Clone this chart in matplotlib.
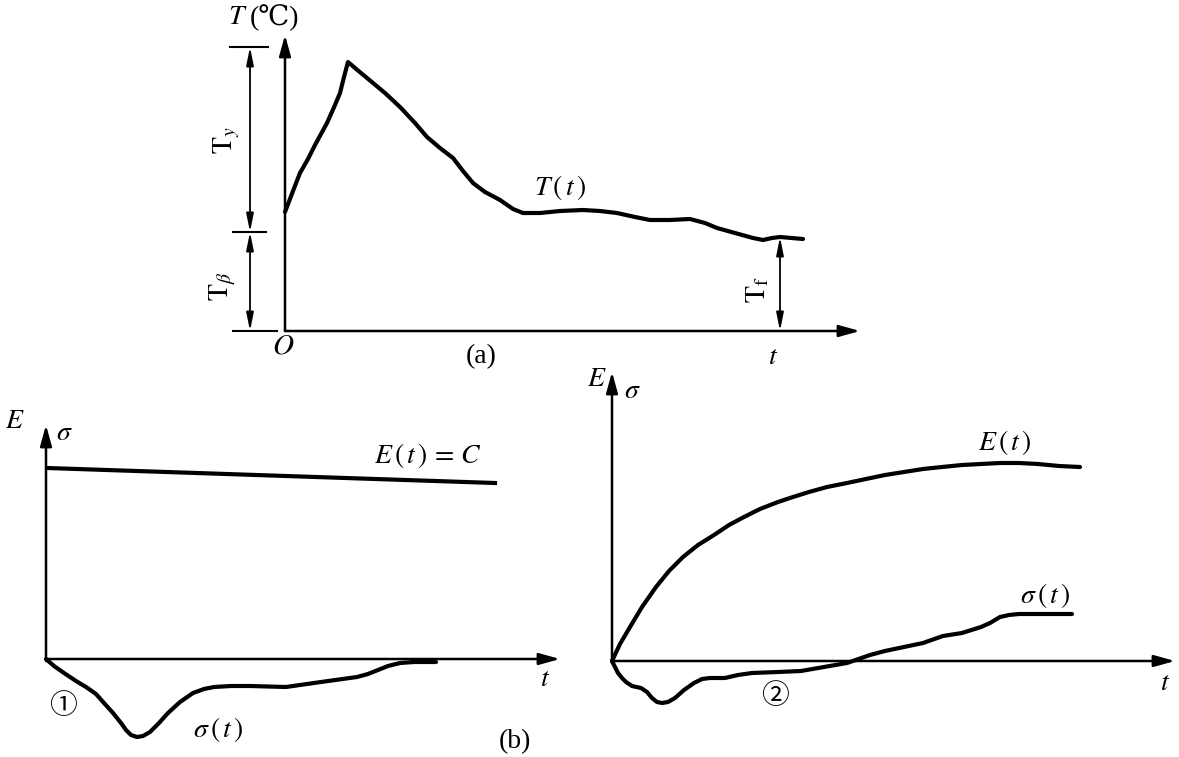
import matplotlib
matplotlib.use("Agg")
import matplotlib.pyplot as plt

plt.rcParams['font.family'] = ['Liberation Serif', 'DejaVu Serif', 'Noto Sans CJK SC']
plt.rcParams['mathtext.fontset'] = 'stix'

# (a) temperature history T(t) (t from origin, T up)
t_a = [0, 8, 15, 23, 30, 42, 50, 55, 59, 63, 70, 82, 100, 115, 130, 142, 155, 168, 178, 188, 200, 215, 228, 238, 255, 275, 298, 315, 332, 350, 365, 385, 405, 420, 432, 450, 468, 478, 487, 495, 518]
T_a = [119, 140, 158, 172, 186, 208, 226, 238, 254, 269, 263, 253, 238, 224, 208, 194, 183, 173, 160, 148, 139, 131, 122, 118, 118, 120, 121, 120, 118, 114, 111, 111, 112, 108, 103, 98, 93, 91, 93, 94, 92]
T_beta = 99      # level splitting T_beta / T_y
T_top = 284      # top of T_y dimension
t_f = 495        # where T_f is measured
T_f = 94

# (b) case 1: E constant, sigma(t) dips then returns
t_b1_E = [1, 449]
E_b1 = [191, 176]
t_b1_s = [0, 8, 18, 30, 40, 50, 58, 67, 75, 80, 85, 91, 97, 104, 113, 122, 134, 147, 158, 168, 185, 204, 240, 275, 311, 322, 332, 342, 354, 368, 383, 390]
s_b1 = [0, -7, -14, -22, -28, -35, -44, -54, -64, -71, -76, -78, -77, -73, -64, -54, -43, -34, -30, -28, -27, -27, -28, -23, -18, -15, -11, -7, -4, -3, -3, -3]

# (b) case 2: E rises, sigma(t) dips then turns positive
t_b2_E = [0, 8, 18, 30, 44, 57, 71, 86, 102, 117, 132, 148, 166, 181, 197, 215, 235, 254, 273, 292, 311, 330, 350, 369, 388, 407, 426, 447, 468]
E_b2 = [0, 17, 34, 54, 74, 90, 104, 116, 126, 136, 144, 152, 159, 164, 169, 174, 178, 182, 186, 189, 192, 194, 196, 197, 198, 198, 197, 195, 194]
t_b2_s = [0, 3, 6, 10, 14, 20, 29, 35, 40, 45, 50, 56, 63, 72, 82, 90, 98, 113, 126, 140, 166, 189, 212, 235, 258, 273, 292, 311, 331, 350, 369, 378, 388, 397, 407, 460]
s_b2 = [0, -6, -12, -17, -21, -25, -27, -31, -37, -41, -42, -41, -37, -29, -22, -18, -17, -17, -14, -12, -11, -10, -6, -2, 6, 10, 14, 18, 25, 28, 34, 38, 44, 46, 47, 47]

W, H = 1179, 757
fig = plt.figure(figsize=(W / 100, H / 100), dpi=100)


def panel(ox, oy, x0, x1, y0, y1):
    # one data unit = one pixel, origin placed at pixel (ox, oy)
    ax = fig.add_axes([(ox + x0) / W, (H - oy + y0) / H, (x1 - x0) / W, (y1 - y0) / H])
    ax.set_xlim(x0, x1)
    ax.set_ylim(y0, y1)
    ax.axis('off')
    return ax


def arrow(ax, x0, y0, x1, y1):
    ax.annotate('', xy=(x1, y1), xytext=(x0, y0),
                arrowprops=dict(arrowstyle='-|>,head_length=0.9,head_width=0.25', color='k',
                                lw=1.8, shrinkA=0, shrinkB=0, mutation_scale=14))


def dim(ax, x, y0, y1):
    ax.annotate('', xy=(x, y1), xytext=(x, y0),
                arrowprops=dict(arrowstyle='<|-|>,head_length=0.9,head_width=0.18', color='k',
                                lw=1.3, shrinkA=0, shrinkB=0, mutation_scale=12))


fs = 20
lw_curve = 3.0

# ---- (a)
ax = panel(285, 331, -80, 590, -40, 330)
arrow(ax, 0, 0, 0, 296)
arrow(ax, 0, 0, 575, 0)
ax.plot(t_a, T_a, color='k', lw=lw_curve, solid_joinstyle='round', solid_capstyle='round')
ax.plot([-55, -17], [T_top, T_top], color='k', lw=1.5)
ax.plot([-52, -19], [T_beta, T_beta], color='k', lw=1.5)
ax.plot([-52, -8], [0, 0], color='k', lw=1.5)
dim(ax, -35, T_beta, T_top)
dim(ax, -35, 0, T_beta)
dim(ax, t_f, 0, T_f)
ax.text(-37, 313, '$T$', fontsize=fs, ha='right', va='center')
ax.text(-35, 313, '(℃)', fontsize=fs, ha='left', va='center')
ax.text(-2, -15, '$O$', fontsize=fs + 1, ha='center', va='center')
ax.text(196, -26, '(a)', fontsize=fs, ha='center', va='center')
ax.text(488, -26, '$t$', fontsize=fs, ha='center', va='center')
ax.text(275, 144, r'$T\,(\,t\,)$', fontsize=fs, ha='center', va='center')
ax.text(-58, 191, r'$\mathrm{T}_{y}$', fontsize=fs, ha='center', va='center', rotation=90)
ax.text(-62, 45, r'$\mathrm{T}_{\beta}$', fontsize=fs, ha='center', va='center', rotation=90)
ax.text(t_f - 22, 41, r'$\mathrm{T}_{\mathrm{f}}$', fontsize=fs, ha='center', va='center', rotation=90)

# ---- (b) case 1
ax = panel(46, 659, -46, 530, -95, 245)
arrow(ax, 0, -2, 0, 234)
arrow(ax, 0, 0, 514, 0)
ax.plot(t_b1_E, E_b1, color='k', lw=lw_curve)
ax.plot(t_b1_s, s_b1, color='k', lw=lw_curve, solid_joinstyle='round', solid_capstyle='round')
ax.text(-31, 237, '$E$', fontsize=fs, ha='center', va='center')
ax.text(18, 226, r'$\sigma$', fontsize=fs, ha='center', va='center')
ax.text(382, 204, r'$E\,(\,t\,)\,=\,C$', fontsize=fs, ha='center', va='center')
ax.text(17, -48, '①', fontsize=fs, ha='center', va='center')
ax.text(172, -71, r'$\sigma\,(\,t\,)$', fontsize=fs, ha='center', va='center')
ax.text(499, -21, '$t$', fontsize=fs, ha='center', va='center')
ax.text(469, -83, '(b)', fontsize=fs, ha='center', va='center')

# ---- (b) case 2
ax = panel(612, 661, -30, 565, -95, 300)
arrow(ax, 0, -2, 0, 289)
arrow(ax, 0, 0, 563, 0)
ax.plot(t_b2_E, E_b2, color='k', lw=lw_curve, solid_joinstyle='round', solid_capstyle='round')
ax.plot(t_b2_s, s_b2, color='k', lw=lw_curve, solid_joinstyle='round', solid_capstyle='round')
ax.text(-15, 281, '$E$', fontsize=fs, ha='center', va='center')
ax.text(20, 269, r'$\sigma$', fontsize=fs, ha='center', va='center')
ax.text(393, 218, r'$E\,(\,t\,)$', fontsize=fs, ha='center', va='center')
ax.text(433, 66, r'$\sigma\,(\,t\,)$', fontsize=fs, ha='center', va='center')
ax.text(553, -22, '$t$', fontsize=fs, ha='center', va='center')
ax.text(163, -36, '②', fontsize=fs, ha='center', va='center')

fig.savefig('out.png', dpi=100, facecolor='white')
